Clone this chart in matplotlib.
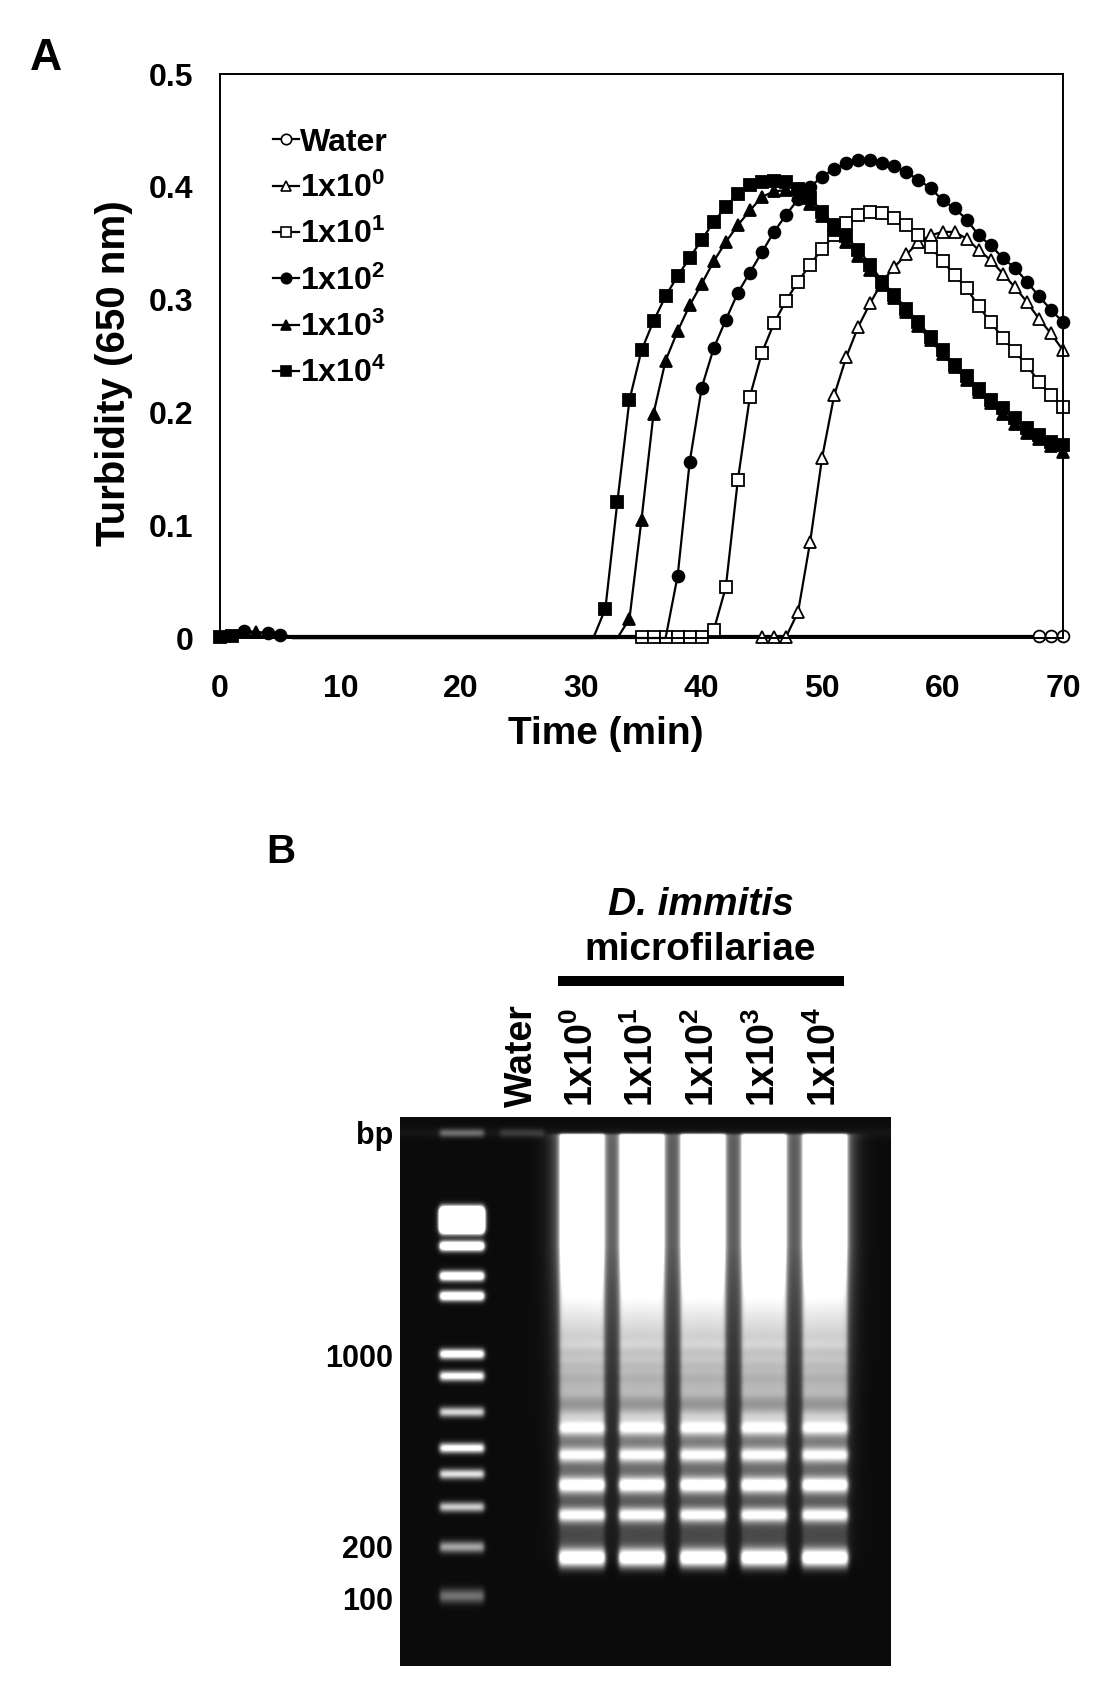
import numpy as np
import matplotlib
matplotlib.use("Agg")
import matplotlib.pyplot as plt
from matplotlib.lines import Line2D

plt.rcParams['font.family'] = ['Liberation Sans', 'DejaVu Sans']
plt.rcParams['font.weight'] = 'bold'
plt.rcParams['mathtext.fontset'] = 'custom'
plt.rcParams['mathtext.rm'] = 'Liberation Sans:bold'
plt.rcParams['mathtext.it'] = 'Liberation Sans:italic:bold'
plt.rcParams['mathtext.bf'] = 'Liberation Sans:bold'
plt.rcParams['mathtext.default'] = 'rm'

# ---------------- panel A data: turbidity (650 nm) every minute ----------------
time_min = list(range(0, 71))

water = [0.002] * 71

# values from the first point where each curve leaves the baseline, up to 70 min
start_1e0 = 48
rise_1e0 = [0.023, 0.085, 0.160, 0.215, 0.249, 0.276, 0.297, 0.316, 0.329, 0.340,
            0.351, 0.357, 0.360, 0.360, 0.354, 0.344, 0.335, 0.323, 0.311, 0.298,
            0.283, 0.270, 0.255]
start_1e1 = 41
rise_1e1 = [0.007, 0.045, 0.140, 0.214, 0.253, 0.279, 0.299, 0.316, 0.331, 0.345,
            0.357, 0.368, 0.375, 0.378, 0.377, 0.372, 0.366, 0.357, 0.347, 0.334,
            0.322, 0.310, 0.294, 0.280, 0.266, 0.254, 0.242, 0.227, 0.215, 0.205]
start_1e2 = 38
rise_1e2 = [0.055, 0.156, 0.222, 0.257, 0.282, 0.306, 0.324, 0.342, 0.360, 0.375,
            0.389, 0.400, 0.409, 0.416, 0.421, 0.424, 0.424, 0.421, 0.418, 0.413,
            0.406, 0.399, 0.388, 0.381, 0.371, 0.357, 0.348, 0.337, 0.328, 0.316,
            0.303, 0.291, 0.280]
start_1e3 = 34
rise_1e3 = [0.017, 0.105, 0.199, 0.246, 0.272, 0.295, 0.314, 0.334, 0.351, 0.366,
            0.379, 0.391, 0.396, 0.397, 0.393, 0.385, 0.374, 0.362, 0.351, 0.339,
            0.326, 0.313, 0.301, 0.289, 0.277, 0.264, 0.252, 0.240, 0.229, 0.218,
            0.208, 0.199, 0.190, 0.182, 0.176, 0.170, 0.165]
start_1e4 = 32
rise_1e4 = [0.026, 0.121, 0.211, 0.255, 0.281, 0.303, 0.321, 0.337, 0.353, 0.369,
            0.382, 0.394, 0.402, 0.404, 0.405, 0.404, 0.398, 0.390, 0.378, 0.366,
            0.356, 0.344, 0.331, 0.316, 0.304, 0.292, 0.280, 0.267, 0.255, 0.242,
            0.232, 0.221, 0.211, 0.204, 0.195, 0.186, 0.180, 0.174, 0.171]

# baseline readings in the lag phase (first minutes are slightly above zero)
early = [0.001, 0.002, 0.006, 0.005, 0.004, 0.003]
base_1e0 = 0.001
base_1e1 = 0.001


def full_series(start, rise, base=0.0):
    vals = early + [base] * (start - len(early)) + rise
    return vals


y_1e0 = full_series(start_1e0, rise_1e0, base_1e0)
y_1e1 = full_series(start_1e1, rise_1e1, base_1e1)
y_1e2 = full_series(start_1e2, rise_1e2)
y_1e3 = full_series(start_1e3, rise_1e3)
y_1e4 = full_series(start_1e4, rise_1e4)

# minutes at which each series shows a marker in the original
marks_water = [68, 69, 70]
marks_1e0 = list(range(45, 71))
marks_1e1 = list(range(35, 71))
marks_1e2 = [2, 4, 5] + list(range(38, 71))
marks_1e3 = [3] + list(range(34, 71))
marks_1e4 = [0, 1] + list(range(32, 71))

labels = ['Water', '1x10$^{0}$', '1x10$^{1}$', '1x10$^{2}$', '1x10$^{3}$', '1x10$^{4}$']

# ---------------- panel B data: gel ----------------
lane_names = ['Water', '1x10$^{0}$', '1x10$^{1}$', '1x10$^{2}$', '1x10$^{3}$', '1x10$^{4}$']
ladder_labels = ['bp', '1000', '200', '100']
ladder_label_y = [1144, 1367, 1558, 1610]

ladder_band_y = [1212, 1220, 1228, 1246, 1276, 1296, 1354, 1376, 1412, 1448, 1474, 1507, 1547, 1596]
ladder_band_amp = [2.5, 2.5, 2.5, 1.6, 1.4, 1.4, 1.2, 1.05, 0.8, 1.05, 0.85, 0.75, 0.6, 0.4]
ladder_band_sig = [4, 4, 4, 3.5, 3.5, 3.5, 3.5, 3.5, 3.5, 3.5, 3.5, 3.5, 4, 5]

sample_band_y = [1345, 1360, 1372, 1384, 1393, 1416, 1428, 1455, 1485, 1515, 1558]
sample_band_amp = [0.06, 0.06, 0.06, 0.06, 0.12, 0.25, 0.6, 0.65, 0.85, 0.8, 1.1]
sample_band_sig = [4, 4, 4, 4, 5, 5, 5, 5, 5.5, 5, 6.5]

# ---------------- figure ----------------
W, H = 1094, 1695
fig = plt.figure(figsize=(W / 100, H / 100), dpi=100)


def fig_box(left, top, right, bottom):
    return [left / W, 1 - bottom / H, (right - left) / W, (bottom - top) / H]


ax = fig.add_axes(fig_box(220, 74, 1063, 638))

series = [
    (water, marks_water, 'o', 'white'),
    (y_1e0, marks_1e0, '^', 'white'),
    (y_1e1, marks_1e1, 's', 'white'),
    (y_1e2, marks_1e2, 'o', 'black'),
    (y_1e3, marks_1e3, '^', 'black'),
    (y_1e4, marks_1e4, 's', 'black'),
]
handles = []
for (vals, marks, mk, fc), lab in zip(series, labels):
    ax.plot(time_min, vals, color='black', lw=1.6, marker=mk, markersize=8.5,
            markerfacecolor=fc, markeredgecolor='black', markeredgewidth=1.3,
            markevery=marks, clip_on=False)
    handles.append(Line2D([], [], color='black', lw=1.6, marker=mk, markersize=7.5,
                          markerfacecolor=fc, markeredgecolor='black',
                          markeredgewidth=1.2, label=lab))

ax.set_xlim(0, 70)
ax.set_ylim(0, 0.5)
ax.set_xticks(range(0, 71, 10))
ax.set_yticks([0, 0.1, 0.2, 0.3, 0.4, 0.5])
ax.set_yticklabels(['0', '0.1', '0.2', '0.3', '0.4', '0.5'])
ax.tick_params(axis='x', length=0, pad=26, labelsize=23)
ax.tick_params(axis='y', length=0, pad=19, labelsize=23)
for sp in ax.spines.values():
    sp.set_linewidth(1.4)

ax.set_xlabel('Time (min)', fontsize=28, fontweight='bold')
ax.xaxis.set_label_coords(0.458, -0.138)
ax.set_ylabel('Turbidity (650 nm)', fontsize=29, fontweight='bold')
ax.yaxis.set_label_coords(-0.103, 0.47)

ax.legend(handles=handles, loc='upper left', bbox_to_anchor=(0.063, 0.905),
          frameon=False, fontsize=23, handlelength=0.8, handletextpad=0.05,
          labelspacing=0.47, borderpad=0, borderaxespad=0, numpoints=1)

fig.text(30 / W, 1 - 70 / H, 'A', fontsize=32, fontweight='bold', ha='left', va='baseline')
fig.text(266 / W, 1 - 863 / H, 'B', fontsize=29, fontweight='bold', ha='left', va='baseline')

# ---------------- gel image ----------------
gx0, gx1, gy0, gy1 = 400, 891, 1117, 1666
X = np.arange(gx0, gx1) + 0.5
Y = np.arange(gy0, gy1) + 0.5


def lane_x(c, hw, s):
    return 0.5 * (np.tanh((X - (c - hw)) / s) - np.tanh((X - (c + hw)) / s))


def bands(pos, amp, sig):
    out = np.zeros_like(Y)
    for p, a, s in zip(pos, amp, sig):
        out += a * np.exp(-0.5 * ((Y - p) / s) ** 2)
    return out


ladder_x = 462
lane_xs = [522, 582, 642, 703, 764, 825]

img = np.full((len(Y), len(X)), 0.045)
img += 0.04 * np.exp(-0.5 * ((Y - 1133) / 4) ** 2)[:, None]

lad = bands(ladder_band_y, ladder_band_amp, ladder_band_sig) + bands([1133], [0.35], [3])
img += np.outer(lad, lane_x(ladder_x, 22, 2.5))
img += np.outer(bands([1133], [0.15], [3]), lane_x(lane_xs[0], 22, 2.5))

# smear: saturated near the wells, fading slowly down the lane
smear = np.minimum(1.3, np.exp(-(Y - 1290) / 172))
smear *= 0.5 * (1 + np.tanh((Y - 1134) / 1.5)) * 0.5 * (1 - np.tanh((Y - 1562) / 8))
prof = smear + bands(sample_band_y, sample_band_amp, sample_band_sig)
for c in lane_xs[1:]:
    core = lane_x(c, 23, 2.5)
    halo = np.clip(lane_x(c, 23, 12) - core, 0, None)
    img += np.outer(prof, core) + 0.55 * np.outer(smear, halo)

img = np.clip(img, 0, 1)

gax = fig.add_axes(fig_box(gx0, gy0, gx1, gy1))
gax.imshow(img, extent=(gx0, gx1, gy1, gy0), aspect='auto', cmap='gray',
           vmin=0, vmax=1, interpolation='bilinear')
gax.set_xlim(gx0, gx1)
gax.set_ylim(gy1, gy0)
gax.axis('off')

for name, cx in zip(lane_names, lane_xs):
    gax.text(cx, 1107, name, rotation=90, ha='center', va='bottom',
             fontsize=27, fontweight='bold', clip_on=False)

for lab, ly in zip(ladder_labels, ladder_label_y):
    gax.text(393, ly, lab, ha='right', va='baseline', fontsize=22,
             fontweight='bold', clip_on=False)

gax.plot([558, 844], [981, 981], color='black', lw=7.2, solid_capstyle='butt', clip_on=False)
gax.text(701, 915, 'D. immitis', ha='center', va='baseline', fontsize=28,
         fontweight='bold', fontstyle='italic', clip_on=False)
gax.text(700, 960, 'microfilariae', ha='center', va='baseline', fontsize=28,
         fontweight='bold', clip_on=False)

fig.savefig('out.png', dpi=100)
